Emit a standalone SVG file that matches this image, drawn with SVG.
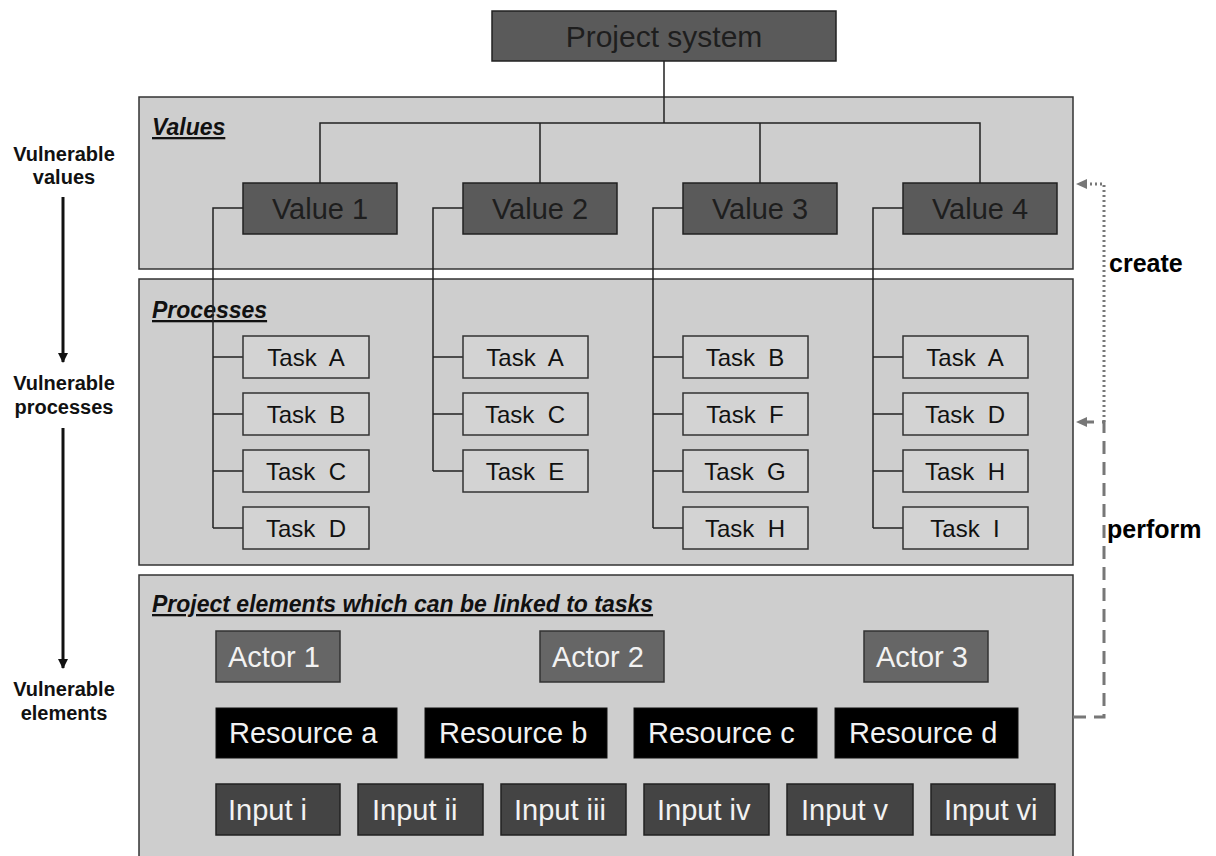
<svg xmlns="http://www.w3.org/2000/svg" width="1216" height="856" viewBox="0 0 1216 856">
<style>
.panel{fill:#cecece;stroke:#333;stroke-width:1.5}
.head{font-family:"Liberation Sans",Arial,sans-serif;font-weight:bold;font-style:italic;font-size:23px;fill:#111;text-decoration:underline}
.big{font-family:"Liberation Sans",Arial,sans-serif;font-size:29px}
.dark{fill:#5a5a5a;stroke:#222;stroke-width:1.5}
.dtxt{fill:#1e1e1e;text-anchor:middle}
.task{fill:#d3d3d3;stroke:#333;stroke-width:1.5}
.ttxt{font-family:"Liberation Sans",Arial,sans-serif;font-size:24px;fill:#111;text-anchor:middle}
.actor{fill:#666;stroke:#333;stroke-width:1.5}
.res{fill:#000;stroke:#111;stroke-width:1}
.inp{fill:#444;stroke:#222;stroke-width:1.5}
.wtxt{fill:#f2f2f2}
.side{font-family:"Liberation Sans",Arial,sans-serif;font-weight:bold;font-size:20px;fill:#111;text-anchor:middle}
.lab{font-family:"Liberation Sans",Arial,sans-serif;font-weight:bold;font-size:25px;fill:#000}
.con{fill:none;stroke:#222;stroke-width:1.5}
</style>
<defs>
<marker id="ah" markerWidth="10" markerHeight="10" refX="9" refY="5" orient="auto" markerUnits="userSpaceOnUse">
<path d="M0,0 L10,5 L0,10 z" fill="#111"/>
</marker>
<marker id="gh" markerWidth="12" markerHeight="12" refX="10" refY="6" orient="auto" markerUnits="userSpaceOnUse">
<path d="M0,1 L11,6 L0,11 z" fill="#777"/>
</marker>
</defs>
<rect width="1216" height="856" fill="#fff"/>

<g id="panel-values"><rect class="panel" x="139" y="97" width="934" height="172"/><text class="head" x="152" y="135">Values</text></g>
<g id="panel-processes"><rect class="panel" x="139" y="279" width="934" height="286"/><text class="head" x="152" y="318">Processes</text></g>
<g id="panel-elements"><rect class="panel" x="139" y="575" width="934" height="290"/><text class="head" x="152" y="612">Project elements which can be linked to tasks</text></g>

<g id="connectors">
<path class="con" d="M664,61 V123 M320,183 V123 H980 V183 M540,123 V183 M760,123 V183"/>
<path class="con" d="M243,208 H213 V528 M213,357 H243 M213,414 H243 M213,471 H243 M213,528 H243"/>
<path class="con" d="M463,208 H433 V471 M433,357 H463 M433,414 H463 M433,471 H463"/>
<path class="con" d="M683,208 H653 V528 M653,357 H683 M653,414 H683 M653,471 H683 M653,528 H683"/>
<path class="con" d="M903,208 H873 V528 M873,357 H903 M873,414 H903 M873,471 H903 M873,528 H903"/>
<path d="M1104,422 V184 H1077" fill="none" stroke="#777" stroke-width="3" stroke-dasharray="2,3" marker-end="url(#gh)"/>
<path d="M1073,717 H1104 V422 H1077" fill="none" stroke="#777" stroke-width="3" stroke-dasharray="13,8" marker-end="url(#gh)"/>
<line x1="63" y1="197" x2="63" y2="362" stroke="#111" stroke-width="3" marker-end="url(#ah)"/>
<line x1="63" y1="428" x2="63" y2="668" stroke="#111" stroke-width="3" marker-end="url(#ah)"/>
</g>

<g id="labels">
<text class="side" x="64" y="161">Vulnerable</text><text class="side" x="64" y="184">values</text>
<text class="side" x="64" y="390">Vulnerable</text><text class="side" x="64" y="414">processes</text>
<text class="side" x="64" y="696">Vulnerable</text><text class="side" x="64" y="720">elements</text>
<text class="lab" x="1109" y="272">create</text>
<text class="lab" x="1107" y="538">perform</text>
</g>

<g id="project-system"><rect class="dark" x="492" y="11" width="344" height="50"/><text class="dtxt" style="font-family:'Liberation Sans',Arial,sans-serif;font-size:30px" x="664" y="47">Project system</text></g>

<g id="value-1"><rect class="dark" x="243" y="183" width="154" height="51"/><text class="big dtxt" x="320" y="219">Value 1</text></g>
<g id="value-2"><rect class="dark" x="463" y="183" width="154" height="51"/><text class="big dtxt" x="540" y="219">Value 2</text></g>
<g id="value-3"><rect class="dark" x="683" y="183" width="154" height="51"/><text class="big dtxt" x="760" y="219">Value 3</text></g>
<g id="value-4"><rect class="dark" x="903" y="183" width="154" height="51"/><text class="big dtxt" x="980" y="219">Value 4</text></g>

<g id="v1-task-a"><rect class="task" x="243" y="336" width="126" height="42"/><text class="ttxt" x="306" y="366" xml:space="preserve">Task  A</text></g>
<g id="v1-task-b"><rect class="task" x="243" y="393" width="126" height="42"/><text class="ttxt" x="306" y="423" xml:space="preserve">Task  B</text></g>
<g id="v1-task-c"><rect class="task" x="243" y="450" width="126" height="42"/><text class="ttxt" x="306" y="480" xml:space="preserve">Task  C</text></g>
<g id="v1-task-d"><rect class="task" x="243" y="507" width="126" height="42"/><text class="ttxt" x="306" y="537" xml:space="preserve">Task  D</text></g>

<g id="v2-task-a"><rect class="task" x="463" y="336" width="125" height="42"/><text class="ttxt" x="525" y="366" xml:space="preserve">Task  A</text></g>
<g id="v2-task-c"><rect class="task" x="463" y="393" width="125" height="42"/><text class="ttxt" x="525" y="423" xml:space="preserve">Task  C</text></g>
<g id="v2-task-e"><rect class="task" x="463" y="450" width="125" height="42"/><text class="ttxt" x="525" y="480" xml:space="preserve">Task  E</text></g>

<g id="v3-task-b"><rect class="task" x="683" y="336" width="125" height="42"/><text class="ttxt" x="745" y="366" xml:space="preserve">Task  B</text></g>
<g id="v3-task-f"><rect class="task" x="683" y="393" width="125" height="42"/><text class="ttxt" x="745" y="423" xml:space="preserve">Task  F</text></g>
<g id="v3-task-g"><rect class="task" x="683" y="450" width="125" height="42"/><text class="ttxt" x="745" y="480" xml:space="preserve">Task  G</text></g>
<g id="v3-task-h"><rect class="task" x="683" y="507" width="125" height="42"/><text class="ttxt" x="745" y="537" xml:space="preserve">Task  H</text></g>

<g id="v4-task-a"><rect class="task" x="903" y="336" width="125" height="42"/><text class="ttxt" x="965" y="366" xml:space="preserve">Task  A</text></g>
<g id="v4-task-d"><rect class="task" x="903" y="393" width="125" height="42"/><text class="ttxt" x="965" y="423" xml:space="preserve">Task  D</text></g>
<g id="v4-task-h"><rect class="task" x="903" y="450" width="125" height="42"/><text class="ttxt" x="965" y="480" xml:space="preserve">Task  H</text></g>
<g id="v4-task-i"><rect class="task" x="903" y="507" width="125" height="42"/><text class="ttxt" x="965" y="537" xml:space="preserve">Task  I</text></g>

<g id="actor-1"><rect class="actor" x="216" y="631" width="124" height="51"/><text class="big wtxt" x="228" y="667">Actor 1</text></g>
<g id="actor-2"><rect class="actor" x="540" y="631" width="124" height="51"/><text class="big wtxt" x="552" y="667">Actor 2</text></g>
<g id="actor-3"><rect class="actor" x="864" y="631" width="124" height="51"/><text class="big wtxt" x="876" y="667">Actor 3</text></g>

<g id="resource-a"><rect class="res" x="216" y="708" width="181" height="50"/><text class="big wtxt" x="229" y="743">Resource a</text></g>
<g id="resource-b"><rect class="res" x="425" y="708" width="182" height="50"/><text class="big wtxt" x="439" y="743">Resource b</text></g>
<g id="resource-c"><rect class="res" x="634" y="708" width="183" height="50"/><text class="big wtxt" x="648" y="743">Resource c</text></g>
<g id="resource-d"><rect class="res" x="835" y="708" width="183" height="50"/><text class="big wtxt" x="849" y="743">Resource d</text></g>

<g id="input-i"><rect class="inp" x="216" y="784" width="124" height="51"/><text class="big wtxt" x="228" y="820">Input i</text></g>
<g id="input-ii"><rect class="inp" x="358" y="784" width="125" height="51"/><text class="big wtxt" x="372" y="820">Input ii</text></g>
<g id="input-iii"><rect class="inp" x="501" y="784" width="125" height="51"/><text class="big wtxt" x="514" y="820">Input iii</text></g>
<g id="input-iv"><rect class="inp" x="644" y="784" width="125" height="51"/><text class="big wtxt" x="657" y="820">Input iv</text></g>
<g id="input-v"><rect class="inp" x="787" y="784" width="126" height="51"/><text class="big wtxt" x="801" y="820">Input v</text></g>
<g id="input-vi"><rect class="inp" x="931" y="784" width="124" height="51"/><text class="big wtxt" x="944" y="820">Input vi</text></g>
</svg>
